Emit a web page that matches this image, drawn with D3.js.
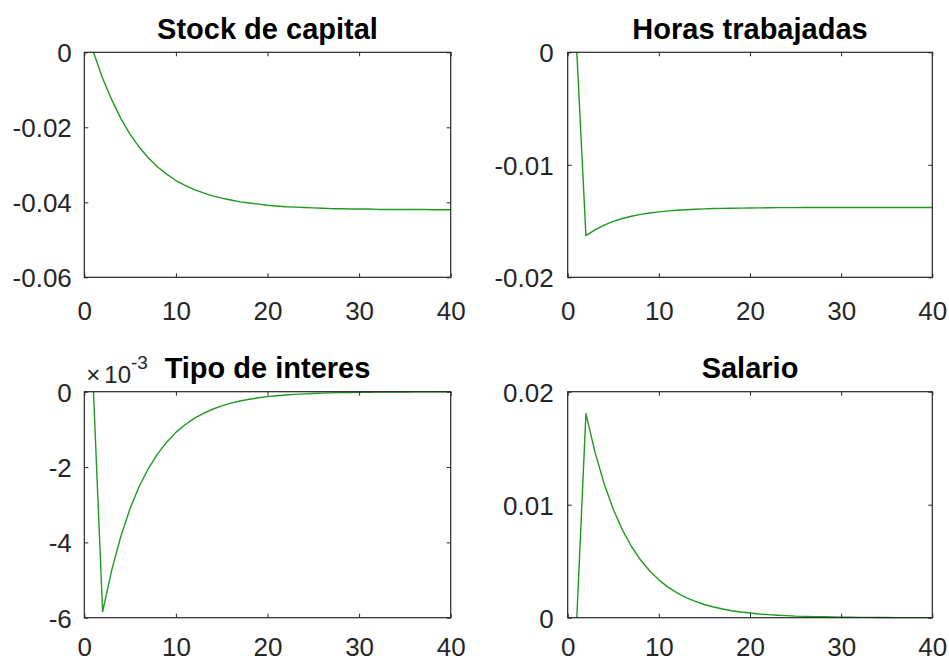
<!DOCTYPE html>
<html>
<head>
<meta charset="utf-8">
<script src="https://cdn.jsdelivr.net/npm/d3@7"></script>
<style>
  html, body { margin: 0; padding: 0; background: #fff; }
  svg { display: block; }
  .tick text { font-family: "Liberation Sans", Arial, sans-serif; font-size: 26px; fill: #262626; }
  .title { font-family: "Liberation Sans", Arial, sans-serif; font-size: 29px; font-weight: bold; fill: #000; }
  .expo { font-family: "Liberation Sans", Arial, sans-serif; fill: #262626; }
</style>
</head>
<body>
<svg id="chart" width="949" height="664"></svg>
<script>
// Impulse responses, periods 1..40
const periods = [1,2,3,4,5,6,7,8,9,10,11,12,13,14,15,16,17,18,19,20,
                 21,22,23,24,25,26,27,28,29,30,31,32,33,34,35,36,37,38,39,40];

const capital = [0, -0.0069, -0.0127, -0.0177, -0.0219, -0.0253, -0.0282, -0.0306, -0.0325, -0.0342,
                 -0.0355, -0.0366, -0.0375, -0.0383, -0.0389, -0.0394, -0.0399, -0.0402, -0.0405, -0.0408,
                 -0.0410, -0.0412, -0.0413, -0.0414, -0.0415, -0.0416, -0.0417, -0.0417, -0.0418, -0.0418,
                 -0.0418, -0.0419, -0.0419, -0.0419, -0.0419, -0.0419, -0.0419, -0.0420, -0.0420, -0.0420];

const hours = [0, -0.0163, -0.01578, -0.01536, -0.01503, -0.01477, -0.01457, -0.01441, -0.01428, -0.01418,
               -0.01410, -0.01404, -0.01399, -0.01395, -0.01392, -0.01389, -0.01387, -0.01386, -0.01385, -0.01384,
               -0.01383, -0.01382, -0.01381, -0.01381, -0.01381, -0.0138, -0.0138, -0.0138, -0.0138, -0.0138,
               -0.0138, -0.0138, -0.0138, -0.0138, -0.0138, -0.0138, -0.0138, -0.0138, -0.0138, -0.0138];

const interest = [0, -0.00584, -0.00473, -0.00383, -0.00310, -0.00251, -0.00204, -0.00165, -0.00134, -0.00108,
                  -0.000877, -0.000710, -0.000575, -0.000466, -0.000377, -0.000305, -0.000248, -0.000200, -0.000162, -0.000131,
                  -0.000106, -0.000086, -0.000070, -0.000057, -0.000046, -0.000037, -0.000030, -0.000025, -0.000020, -0.000016,
                  -0.000013, -0.000011, -0.000009, -0.000007, -0.000006, -0.000005, -0.000004, -0.000003, -0.000002, -0.000002];

const wage = [0, 0.01806, 0.01463, 0.01185, 0.00960, 0.00777, 0.00630, 0.00510, 0.00413, 0.00335,
              0.00271, 0.00220, 0.00178, 0.00144, 0.00117, 0.00095, 0.00077, 0.00062, 0.00050, 0.00041,
              0.00033, 0.00027, 0.00022, 0.00018, 0.00014, 0.00012, 0.00009, 0.00008, 0.00006, 0.00005,
              0.00004, 0.00003, 0.00003, 0.00002, 0.00002, 0.00001, 0.00001, 0.00001, 0.00001, 0.00001];

const titles = ["Stock de capital", "Horas trabajadas", "Tipo de interes", "Salario"];

const xTicks = [0, 10, 20, 30, 40];
const xTickLabels = ["0", "10", "20", "30", "40"];

const capitalTicks = [-0.06, -0.04, -0.02, 0];
const capitalTickLabels = ["-0.06", "-0.04", "-0.02", "0"];
const hoursTicks = [-0.02, -0.01, 0];
const hoursTickLabels = ["-0.02", "-0.01", "0"];
const interestTicks = [-0.006, -0.004, -0.002, 0];
const interestTickLabels = ["-6", "-4", "-2", "0"];
const wageTicks = [0, 0.01, 0.02];
const wageTickLabels = ["0", "0.01", "0.02"];

const lineColor = "#1f9a1f";
const axisColor = "#262626";

const panels = [
  { title: titles[0], values: capital, ticks: capitalTicks, labels: capitalTickLabels,
    domain: [-0.06, 0], box: { left: 84.3, right: 450.7, top: 52.3, bottom: 277.3 }, pad: 12.5, xpad: 24 },
  { title: titles[1], values: hours, ticks: hoursTicks, labels: hoursTickLabels,
    domain: [-0.02, 0], box: { left: 567.7, right: 932.3, top: 52.3, bottom: 277.3 }, pad: 14, xpad: 24 },
  { title: titles[2], values: interest, ticks: interestTicks, labels: interestTickLabels,
    domain: [-0.006, 0], box: { left: 84.3, right: 450.7, top: 391.7, bottom: 617.7 }, pad: 12.5, xpad: 20, exponent: "-3" },
  { title: titles[3], values: wage, ticks: wageTicks, labels: wageTickLabels,
    domain: [0, 0.02], box: { left: 567.7, right: 932.3, top: 391.7, bottom: 617.7 }, pad: 14, xpad: 20 }
];

const svg = d3.select("#chart");

panels.forEach(p => {
  const b = p.box;
  const x = d3.scaleLinear().domain([0, 40]).range([b.left, b.right]);
  const y = d3.scaleLinear().domain(p.domain).range([b.bottom, b.top]);
  const g = svg.append("g");

  // response line
  const line = d3.line().x((d, i) => x(periods[i])).y(d => y(d));
  g.append("path")
    .datum(p.values)
    .attr("fill", "none")
    .attr("stroke", lineColor)
    .attr("stroke-width", 1.4)
    .attr("stroke-linejoin", "round")
    .attr("d", line);

  const xLab = v => xTickLabels[xTicks.indexOf(v)];
  const yLab = v => p.labels[p.ticks.indexOf(v)];

  // bottom axis with labels, inward ticks
  const gx = g.append("g").attr("transform", `translate(0,${b.bottom})`)
    .call(d3.axisBottom(x).tickValues(xTicks).tickFormat(xLab).tickSize(-4).tickSizeOuter(0).tickPadding(p.xpad));
  // top mirror ticks
  const gxt = g.append("g").attr("transform", `translate(0,${b.top})`)
    .call(d3.axisTop(x).tickValues(xTicks).tickFormat("").tickSize(-4).tickSizeOuter(0));
  // left axis with labels
  const gy = g.append("g").attr("transform", `translate(${b.left},0)`)
    .call(d3.axisLeft(y).tickValues(p.ticks).tickFormat(yLab).tickSize(-4).tickSizeOuter(0).tickPadding(p.pad));
  // right mirror ticks
  const gyr = g.append("g").attr("transform", `translate(${b.right},0)`)
    .call(d3.axisRight(y).tickValues(p.ticks).tickFormat("").tickSize(-4).tickSizeOuter(0));

  [gx, gxt, gy, gyr].forEach(a => {
    a.select(".domain").remove();
    a.selectAll(".tick line").attr("stroke", axisColor).attr("stroke-width", 1);
    a.attr("font-family", null).attr("font-size", null);
  });
  gy.selectAll(".tick text").attr("dy", "0.36em");

  // axes box
  g.append("rect")
    .attr("x", b.left).attr("y", b.top)
    .attr("width", b.right - b.left).attr("height", b.bottom - b.top)
    .attr("fill", "none").attr("stroke", axisColor).attr("stroke-width", 1.2);

  // title
  g.append("text")
    .attr("class", "title")
    .attr("x", (b.left + b.right) / 2)
    .attr("y", b.top - 13.5)
    .attr("text-anchor", "middle")
    .text(p.title);

  // exponent multiplier
  if (p.exponent) {
    const t = g.append("text").attr("class", "expo")
      .attr("x", b.left + 2).attr("y", b.top - 8.5);
    t.append("tspan").style("font-size", "24px").text("\u00d7");
    t.append("tspan").style("font-size", "24px").attr("dx", 4).text("10");
    t.append("tspan").style("font-size", "19px").attr("dy", -14.5).text(p.exponent);
  }
});
</script>
</body>
</html>
